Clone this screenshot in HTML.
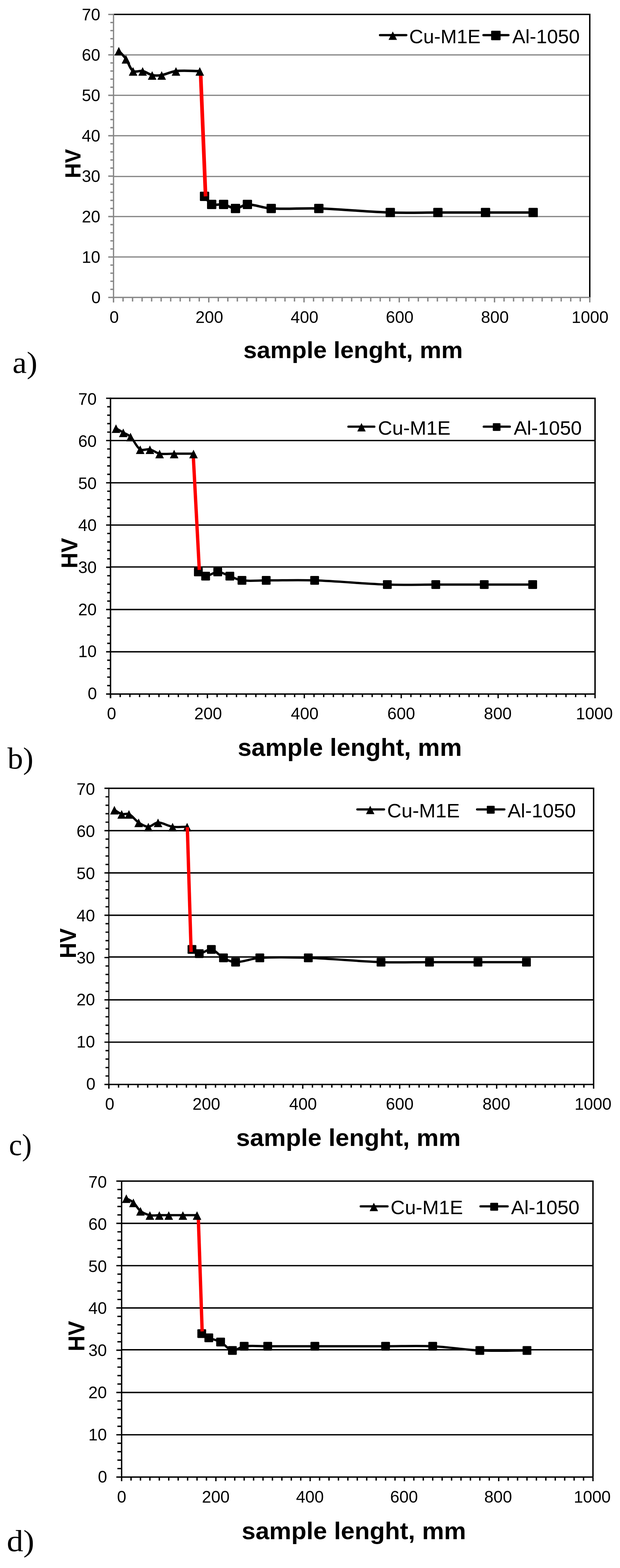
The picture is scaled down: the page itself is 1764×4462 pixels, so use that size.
<!DOCTYPE html>
<html lang="en">
<head>
<meta charset="utf-8">
<title>Hardness HV along sample length: Cu-M1E / Al-1050</title>
<style>
html,body{margin:0;padding:0;background:#fff;}
body{width:1764px;height:4462px;overflow:hidden;}
svg{display:block;}
svg text{font-family:"Liberation Sans", Arial, sans-serif;fill:#000;}
svg text.serif{font-family:"Liberation Serif","Times New Roman",serif;}
</style>
</head>
<body>
<svg width="1764" height="4462" viewBox="0 0 1764 4462">
<rect width="1764" height="4462" fill="#fff"/>
<g id="chart-a">
<path d="M323,731.36H1678M323,616.31H1678M323,502.27H1678M323,386.23H1678M323,271.19H1678M323,156.14H1678" stroke="#868686" stroke-width="3.5" fill="none"/>
<path d="M323,41.1H1678V846.4" stroke="#000" stroke-width="4" fill="none" stroke-linejoin="miter"/>
<path d="M308,846.4H323M314,823.39H323M314,800.38H323M314,777.37H323M314,754.37H323M308,731.36H323M314,708.35H323M314,685.34H323M314,662.33H323M314,639.32H323M308,616.31H323M314,593.31H323M314,570.3H323M314,547.29H323M314,524.28H323M308,501.27H323M314,478.26H323M314,455.25H323M314,432.25H323M314,409.24H323M308,386.23H323M314,363.22H323M314,340.21H323M314,317.2H323M314,294.19H323M308,271.19H323M314,248.18H323M314,225.17H323M314,202.16H323M314,179.15H323M308,156.14H323M314,133.13H323M314,110.13H323M314,87.12H323M314,64.11H323M308,41.1H323M323,846.4V860.4M350.1,846.4V857.9M377.2,846.4V857.9M404.3,846.4V857.9M431.4,846.4V857.9M458.5,846.4V857.9M485.6,846.4V857.9M512.7,846.4V857.9M539.8,846.4V857.9M566.9,846.4V857.9M594,846.4V860.4M621.1,846.4V857.9M648.2,846.4V857.9M675.3,846.4V857.9M702.4,846.4V857.9M729.5,846.4V857.9M756.6,846.4V857.9M783.7,846.4V857.9M810.8,846.4V857.9M837.9,846.4V857.9M865,846.4V860.4M892.1,846.4V857.9M919.2,846.4V857.9M946.3,846.4V857.9M973.4,846.4V857.9M1000.5,846.4V857.9M1027.6,846.4V857.9M1054.7,846.4V857.9M1081.8,846.4V857.9M1108.9,846.4V857.9M1136,846.4V860.4M1163.1,846.4V857.9M1190.2,846.4V857.9M1217.3,846.4V857.9M1244.4,846.4V857.9M1271.5,846.4V857.9M1298.6,846.4V857.9M1325.7,846.4V857.9M1352.8,846.4V857.9M1379.9,846.4V857.9M1407,846.4V860.4M1434.1,846.4V857.9M1461.2,846.4V857.9M1488.3,846.4V857.9M1515.4,846.4V857.9M1542.5,846.4V857.9M1569.6,846.4V857.9M1596.7,846.4V857.9M1623.8,846.4V857.9M1650.9,846.4V857.9M1678,846.4V860.4" stroke="#868686" stroke-width="3.9" fill="none"/>
<path d="M321.2,846.4H1678" stroke="#868686" stroke-width="3.6" fill="none"/>
<path d="M323,39.1V860.4" stroke="#868686" stroke-width="3.6" fill="none"/>
<g class="ticks">
<text transform="translate(286.3 863.41)" font-size="47.3" text-anchor="end">0</text>
<text transform="translate(285.3 748.33)" font-size="47.3" text-anchor="end">10</text>
<text transform="translate(285.3 633.24)" font-size="47.3" text-anchor="end">20</text>
<text transform="translate(285.3 518.16)" font-size="47.3" text-anchor="end">30</text>
<text transform="translate(285.3 403.07)" font-size="47.3" text-anchor="end">40</text>
<text transform="translate(285.3 287.98)" font-size="47.3" text-anchor="end">50</text>
<text transform="translate(285.3 172.9)" font-size="47.3" text-anchor="end">60</text>
<text transform="translate(285.3 57.81)" font-size="47.3" text-anchor="end">70</text>
<text transform="translate(324.8 918.9)" font-size="47.3" text-anchor="middle">0</text>
<text transform="translate(595.6 918.9)" font-size="47.3" text-anchor="middle">200</text>
<text transform="translate(866.4 918.9)" font-size="47.3" text-anchor="middle">400</text>
<text transform="translate(1137.2 918.9)" font-size="47.3" text-anchor="middle">600</text>
<text transform="translate(1408 918.9)" font-size="47.3" text-anchor="middle">800</text>
<text transform="translate(1678.8 918.9)" font-size="47.3" text-anchor="middle">1000</text>
</g>
<text transform="translate(229.1 507.3) rotate(-90) scale(0.95 1)" font-size="63" font-weight="bold">HV</text>
<text transform="translate(692.4 1018.7)" font-size="66.5" font-weight="bold" textLength="624.32" lengthAdjust="spacingAndGlyphs">sample lenght, mm</text>
<text transform="translate(35.5 1061.2) scale(1.05 1)" font-size="87" class="serif">a)</text>
<path d="M581.95,558.79 C588.73,566.46 593.69,578.16 602.27,581.8 C611.75,585.82 625.17,579.94 636.15,581.8 C647.75,583.77 658.73,593.31 670.02,593.31 C681.32,593.31 692.3,581.8 703.9,581.8 C726.18,581.8 748.85,592.02 771.65,593.31 C816.6,595.85 862.03,591.77 907.15,593.31 C974.94,595.61 1042.61,602.51 1110.4,604.81 C1155.52,606.34 1200.73,604.81 1245.9,604.81 C1291.07,604.81 1336.23,604.81 1381.4,604.81 C1426.57,604.81 1471.73,604.81 1516.9,604.81" stroke="#000" stroke-width="7" fill="none" stroke-linejoin="round"/>
<g fill="#000"><rect x="568.7" y="545.54" width="26.5" height="26.5" rx="2"/><rect x="589.02" y="568.55" width="26.5" height="26.5" rx="2"/><rect x="622.9" y="568.55" width="26.5" height="26.5" rx="2"/><rect x="656.77" y="580.06" width="26.5" height="26.5" rx="2"/><rect x="690.65" y="568.55" width="26.5" height="26.5" rx="2"/><rect x="758.4" y="580.06" width="26.5" height="26.5" rx="2"/><rect x="893.9" y="580.06" width="26.5" height="26.5" rx="2"/><rect x="1097.15" y="591.56" width="26.5" height="26.5" rx="2"/><rect x="1232.65" y="591.56" width="26.5" height="26.5" rx="2"/><rect x="1368.15" y="591.56" width="26.5" height="26.5" rx="2"/><rect x="1503.65" y="591.56" width="26.5" height="26.5" rx="2"/></g>
<path d="M570.9,211.16L584.95,558.79" stroke="#fe0000" stroke-width="10.5" fill="none"/>
<path d="M338.05,144.64 C344.82,152.31 352.5,159.33 358.38,167.65 C366.05,178.5 369.27,195.3 378.7,202.16 C385.08,206.8 397.14,200.32 405.8,202.16 C415.21,204.16 423.49,211.67 432.9,213.66 C441.56,215.5 451.17,215.16 460,213.66 C473.76,211.33 486.77,203.63 500.65,202.16 C522.91,199.8 545.82,202.16 568.4,202.16" stroke="#000" stroke-width="7" fill="none" stroke-linejoin="round"/>
<path d="M338.05,133.39L350.3,157.89H325.8ZM358.38,156.4L370.62,180.9H346.12ZM378.7,190.91L390.95,215.41H366.45ZM405.8,190.91L418.05,215.41H393.55ZM432.9,202.41L445.15,226.91H420.65ZM460,202.41L472.25,226.91H447.75ZM500.65,190.91L512.9,215.41H488.4ZM568.4,190.91L580.65,215.41H556.15Z" fill="#000"/>
<path d="M1081.2,100H1156M1375.5,100H1446.6" stroke="#000" stroke-width="6.3" stroke-linecap="round" fill="none"/>
<path d="M1117.5,89.5L1129.5,113.5H1105.5Z" fill="#000"/>
<rect x="1397.3" y="87.5" width="27" height="27" rx="2" fill="#000"/>
<text transform="translate(1164.22 122.5)" font-size="55.5" textLength="203.05" lengthAdjust="spacingAndGlyphs">Cu-M1E</text>
<text transform="translate(1457.5 122.5)" font-size="55.5" textLength="191.98" lengthAdjust="spacingAndGlyphs">Al-1050</text>
</g>
<g id="chart-b">
<path d="M314.4,1854.77H1693M314.4,1734.54H1693M314.4,1613.41H1693M314.4,1494.09H1693M314.4,1373.86H1693M314.4,1253.63H1693" stroke="#000" stroke-width="3.9" fill="none"/>
<path d="M314.4,1133.4H1693V1975" stroke="#000" stroke-width="4" fill="none" stroke-linejoin="miter"/>
<path d="M301.9,1975H314.4M305,1950.95H314.4M305,1926.91H314.4M305,1902.86H314.4M305,1878.82H314.4M301.9,1854.77H314.4M305,1830.73H314.4M305,1806.68H314.4M305,1782.63H314.4M305,1758.59H314.4M301.9,1734.54H314.4M305,1710.5H314.4M305,1686.45H314.4M305,1662.41H314.4M305,1638.36H314.4M301.9,1614.31H314.4M305,1590.27H314.4M305,1566.22H314.4M305,1542.18H314.4M305,1518.13H314.4M301.9,1494.09H314.4M305,1470.04H314.4M305,1445.99H314.4M305,1421.95H314.4M305,1397.9H314.4M301.9,1373.86H314.4M305,1349.81H314.4M305,1325.77H314.4M305,1301.72H314.4M305,1277.67H314.4M301.9,1253.63H314.4M305,1229.58H314.4M305,1205.54H314.4M305,1181.49H314.4M305,1157.45H314.4M301.9,1133.4H314.4M314.4,1975V1987M341.97,1975V1983.8M369.54,1975V1983.8M397.12,1975V1983.8M424.69,1975V1983.8M452.26,1975V1983.8M479.83,1975V1983.8M507.4,1975V1983.8M534.98,1975V1983.8M562.55,1975V1983.8M590.12,1975V1987M617.69,1975V1983.8M645.26,1975V1983.8M672.84,1975V1983.8M700.41,1975V1983.8M727.98,1975V1983.8M755.55,1975V1983.8M783.12,1975V1983.8M810.7,1975V1983.8M838.27,1975V1983.8M865.84,1975V1987M893.41,1975V1983.8M920.98,1975V1983.8M948.56,1975V1983.8M976.13,1975V1983.8M1003.7,1975V1983.8M1031.27,1975V1983.8M1058.84,1975V1983.8M1086.42,1975V1983.8M1113.99,1975V1983.8M1141.56,1975V1987M1169.13,1975V1983.8M1196.7,1975V1983.8M1224.28,1975V1983.8M1251.85,1975V1983.8M1279.42,1975V1983.8M1306.99,1975V1983.8M1334.56,1975V1983.8M1362.14,1975V1983.8M1389.71,1975V1983.8M1417.28,1975V1987M1444.85,1975V1983.8M1472.42,1975V1983.8M1500,1975V1983.8M1527.57,1975V1983.8M1555.14,1975V1983.8M1582.71,1975V1983.8M1610.28,1975V1983.8M1637.86,1975V1983.8M1665.43,1975V1983.8M1693,1975V1987" stroke="#000" stroke-width="3.9" fill="none"/>
<path d="M312.4,1975H1693" stroke="#000" stroke-width="4" fill="none"/>
<path d="M314.4,1131.4V1987" stroke="#000" stroke-width="4" fill="none"/>
<g class="ticks">
<text transform="translate(275.9 1989.81)" font-size="47.3" text-anchor="end">0</text>
<text transform="translate(275 1870.16)" font-size="47.3" text-anchor="end">10</text>
<text transform="translate(275 1750.5)" font-size="47.3" text-anchor="end">20</text>
<text transform="translate(275 1630.84)" font-size="47.3" text-anchor="end">30</text>
<text transform="translate(275 1511.18)" font-size="47.3" text-anchor="end">40</text>
<text transform="translate(275 1391.53)" font-size="47.3" text-anchor="end">50</text>
<text transform="translate(275 1271.87)" font-size="47.3" text-anchor="end">60</text>
<text transform="translate(275 1152.21)" font-size="47.3" text-anchor="end">70</text>
<text transform="translate(317.4 2046.8)" font-size="47.3" text-anchor="middle">0</text>
<text transform="translate(592.12 2046.8)" font-size="47.3" text-anchor="middle">200</text>
<text transform="translate(866.84 2046.8)" font-size="47.3" text-anchor="middle">400</text>
<text transform="translate(1141.56 2046.8)" font-size="47.3" text-anchor="middle">600</text>
<text transform="translate(1416.28 2046.8)" font-size="47.3" text-anchor="middle">800</text>
<text transform="translate(1691 2046.8)" font-size="47.3" text-anchor="middle">1000</text>
</g>
<text transform="translate(220.2 1617.5) rotate(-90) scale(0.95 1)" font-size="65.7" font-weight="bold">HV</text>
<text transform="translate(676.4 2151)" font-size="70" font-weight="bold" textLength="637.6" lengthAdjust="spacingAndGlyphs">sample lenght, mm</text>
<text transform="translate(21.2 2186.6) scale(1.02 1)" font-size="87" class="serif">b)</text>
<path d="M564.35,1627.54 C571.24,1631.54 577.75,1639.56 585.03,1639.56 C596.13,1639.56 608,1627.54 619.49,1627.54 C630.98,1627.54 642.47,1635.55 653.96,1639.56 C665.45,1643.57 676.49,1650.2 688.42,1651.58 C710.95,1654.2 734.38,1651.58 757.35,1651.58 C803.31,1651.58 849.31,1649.98 895.21,1651.58 C964.19,1653.99 1033.03,1661.2 1102,1663.61 C1147.91,1665.21 1193.91,1663.61 1239.86,1663.61 C1285.82,1663.61 1331.77,1663.61 1377.72,1663.61 C1423.68,1663.61 1469.63,1663.61 1515.58,1663.61" stroke="#000" stroke-width="6.5" fill="none" stroke-linejoin="round"/>
<g fill="#000"><rect x="551.85" y="1615.04" width="25" height="25" rx="2"/><rect x="572.53" y="1627.06" width="25" height="25" rx="2"/><rect x="606.99" y="1615.04" width="25" height="25" rx="2"/><rect x="641.46" y="1627.06" width="25" height="25" rx="2"/><rect x="675.92" y="1639.08" width="25" height="25" rx="2"/><rect x="744.85" y="1639.08" width="25" height="25" rx="2"/><rect x="882.71" y="1639.08" width="25" height="25" rx="2"/><rect x="1089.5" y="1651.11" width="25" height="25" rx="2"/><rect x="1227.36" y="1651.11" width="25" height="25" rx="2"/><rect x="1365.22" y="1651.11" width="25" height="25" rx="2"/><rect x="1503.08" y="1651.11" width="25" height="25" rx="2"/></g>
<path d="M550.06,1299.9L567.05,1621.64" stroke="#fe0000" stroke-width="9.5" fill="none"/>
<path d="M329.99,1218.76 C336.88,1222.77 343.77,1226.78 350.66,1230.78 C357.56,1234.79 365.79,1237.27 371.34,1242.81 C381.88,1253.3 387.48,1271.39 398.92,1278.87 C405.86,1283.42 417.7,1276.96 426.49,1278.87 C436.08,1280.97 444.39,1289.21 454.06,1290.9 C467.36,1293.22 481.63,1290.9 495.42,1290.9 C513.8,1290.9 532.18,1290.9 550.56,1290.9" stroke="#000" stroke-width="6.5" fill="none" stroke-linejoin="round"/>
<path d="M329.99,1207.51L342.24,1232.01H317.74ZM350.66,1219.53L362.91,1244.03H338.41ZM371.34,1231.56L383.59,1256.06H359.09ZM398.92,1267.62L411.17,1292.12H386.67ZM426.49,1267.62L438.74,1292.12H414.24ZM454.06,1279.65L466.31,1304.15H441.81ZM495.42,1279.65L507.67,1304.15H483.17ZM550.56,1279.65L562.81,1304.15H538.31Z" fill="#000"/>
<path d="M991.4,1214.2H1065M1376.4,1214.2H1450.4" stroke="#000" stroke-width="6.3" stroke-linecap="round" fill="none"/>
<path d="M1028.5,1203.7L1040.5,1227.7H1016.5Z" fill="#000"/>
<rect x="1402" y="1204.2" width="22" height="22" rx="2" fill="#000"/>
<text transform="translate(1075.35 1237.1)" font-size="55" textLength="206.6" lengthAdjust="spacingAndGlyphs">Cu-M1E</text>
<text transform="translate(1461.8 1237.1)" font-size="55" textLength="193.55" lengthAdjust="spacingAndGlyphs">Al-1050</text>
</g>
<g id="chart-c">
<path d="M309.7,2965.61H1688.9M309.7,2845.23H1688.9M309.7,2723.24H1688.9M309.7,2604.46H1688.9M309.7,2484.07H1688.9M309.7,2363.69H1688.9" stroke="#000" stroke-width="3.9" fill="none"/>
<path d="M309.7,2243.3H1688.9V3086" stroke="#000" stroke-width="4" fill="none" stroke-linejoin="miter"/>
<path d="M297.2,3086H309.7M300.2,3061.92H309.7M300.2,3037.85H309.7M300.2,3013.77H309.7M300.2,2989.69H309.7M297.2,2965.61H309.7M300.2,2941.54H309.7M300.2,2917.46H309.7M300.2,2893.38H309.7M300.2,2869.31H309.7M297.2,2845.23H309.7M300.2,2821.15H309.7M300.2,2797.07H309.7M300.2,2773H309.7M300.2,2748.92H309.7M297.2,2724.84H309.7M300.2,2700.77H309.7M300.2,2676.69H309.7M300.2,2652.61H309.7M300.2,2628.53H309.7M297.2,2604.46H309.7M300.2,2580.38H309.7M300.2,2556.3H309.7M300.2,2532.23H309.7M300.2,2508.15H309.7M297.2,2484.07H309.7M300.2,2459.99H309.7M300.2,2435.92H309.7M300.2,2411.84H309.7M300.2,2387.76H309.7M297.2,2363.69H309.7M300.2,2339.61H309.7M300.2,2315.53H309.7M300.2,2291.45H309.7M300.2,2267.38H309.7M297.2,2243.3H309.7M309.7,3086V3098M337.28,3086V3095M364.87,3086V3095M392.45,3086V3095M420.04,3086V3095M447.62,3086V3095M475.2,3086V3095M502.79,3086V3095M530.37,3086V3095M557.96,3086V3095M585.54,3086V3098M613.12,3086V3095M640.71,3086V3095M668.29,3086V3095M695.88,3086V3095M723.46,3086V3095M751.04,3086V3095M778.63,3086V3095M806.21,3086V3095M833.8,3086V3095M861.38,3086V3098M888.96,3086V3095M916.55,3086V3095M944.13,3086V3095M971.72,3086V3095M999.3,3086V3095M1026.88,3086V3095M1054.47,3086V3095M1082.05,3086V3095M1109.64,3086V3095M1137.22,3086V3098M1164.8,3086V3095M1192.39,3086V3095M1219.97,3086V3095M1247.56,3086V3095M1275.14,3086V3095M1302.72,3086V3095M1330.31,3086V3095M1357.89,3086V3095M1385.48,3086V3095M1413.06,3086V3098M1440.64,3086V3095M1468.23,3086V3095M1495.81,3086V3095M1523.4,3086V3095M1550.98,3086V3095M1578.56,3086V3095M1606.15,3086V3095M1633.73,3086V3095M1661.32,3086V3095M1688.9,3086V3098" stroke="#000" stroke-width="3.9" fill="none"/>
<path d="M307.7,3086H1688.9" stroke="#000" stroke-width="4" fill="none"/>
<path d="M309.7,2241.3V3098" stroke="#000" stroke-width="3" fill="none"/>
<g class="ticks">
<text transform="translate(271.6 3101.01)" font-size="47.3" text-anchor="end">0</text>
<text transform="translate(270.3 2981.18)" font-size="47.3" text-anchor="end">10</text>
<text transform="translate(270.3 2861.36)" font-size="47.3" text-anchor="end">20</text>
<text transform="translate(270.3 2741.53)" font-size="47.3" text-anchor="end">30</text>
<text transform="translate(270.3 2621.7)" font-size="47.3" text-anchor="end">40</text>
<text transform="translate(270.3 2501.87)" font-size="47.3" text-anchor="end">50</text>
<text transform="translate(270.3 2382.04)" font-size="47.3" text-anchor="end">60</text>
<text transform="translate(270.3 2262.21)" font-size="47.3" text-anchor="end">70</text>
<text transform="translate(312.1 3158)" font-size="47.3" text-anchor="middle">0</text>
<text transform="translate(587.14 3158)" font-size="47.3" text-anchor="middle">200</text>
<text transform="translate(862.18 3158)" font-size="47.3" text-anchor="middle">400</text>
<text transform="translate(1137.22 3158)" font-size="47.3" text-anchor="middle">600</text>
<text transform="translate(1412.26 3158)" font-size="47.3" text-anchor="middle">800</text>
<text transform="translate(1687.3 3158)" font-size="47.3" text-anchor="middle">1000</text>
</g>
<text transform="translate(216.2 2727.3) rotate(-90) scale(0.94 1)" font-size="65.7" font-weight="bold">HV</text>
<text transform="translate(672.12 3261)" font-size="69.3" font-weight="bold" textLength="638.54" lengthAdjust="spacingAndGlyphs">sample lenght, mm</text>
<text transform="translate(25.5 3286.6) scale(0.96 1)" font-size="87" class="serif">c)</text>
<path d="M546.16,2701.77 C553.06,2705.78 559.57,2713.8 566.85,2713.8 C577.96,2713.8 590.65,2699.9 601.33,2701.77 C613.63,2703.91 623.51,2719.4 635.81,2725.84 C646.5,2731.44 658.47,2737.88 670.29,2737.88 C692.95,2737.88 716.03,2727.19 739.25,2725.84 C784.99,2723.18 831.25,2724.24 877.17,2725.84 C946.18,2728.25 1015.05,2735.47 1084.05,2737.88 C1129.98,2739.48 1176,2737.88 1221.97,2737.88 C1267.95,2737.88 1313.92,2737.88 1359.89,2737.88 C1405.87,2737.88 1451.84,2737.88 1497.81,2737.88" stroke="#000" stroke-width="6.5" fill="none" stroke-linejoin="round"/>
<g fill="#000"><rect x="533.66" y="2689.27" width="25" height="25" rx="2"/><rect x="554.35" y="2701.3" width="25" height="25" rx="2"/><rect x="588.83" y="2689.27" width="25" height="25" rx="2"/><rect x="623.31" y="2713.34" width="25" height="25" rx="2"/><rect x="657.79" y="2725.38" width="25" height="25" rx="2"/><rect x="726.75" y="2713.34" width="25" height="25" rx="2"/><rect x="864.67" y="2713.34" width="25" height="25" rx="2"/><rect x="1071.55" y="2725.38" width="25" height="25" rx="2"/><rect x="1209.47" y="2725.38" width="25" height="25" rx="2"/><rect x="1347.39" y="2725.38" width="25" height="25" rx="2"/><rect x="1485.31" y="2725.38" width="25" height="25" rx="2"/></g>
<path d="M325.49,2304.49 C332.39,2308.51 338.78,2314.38 346.18,2316.53 C352.57,2318.39 361.06,2313.63 366.87,2316.53 C377.15,2321.66 384.36,2334 394.45,2340.61 C402.75,2346.04 412.84,2352.65 422.04,2352.65 C431.23,2352.65 440.17,2340.61 449.62,2340.61 C463.15,2340.61 476.92,2350.6 491,2352.65 C504.51,2354.61 518.58,2352.65 532.37,2352.65" stroke="#000" stroke-width="6.5" fill="none" stroke-linejoin="round"/>
<path d="M325.49,2293.24L337.74,2317.74H313.24ZM346.18,2305.28L358.43,2329.78H333.93ZM366.87,2305.28L379.12,2329.78H354.62ZM394.45,2329.36L406.7,2353.86H382.2ZM422.04,2341.4L434.29,2365.9H409.79ZM449.62,2329.36L461.87,2353.86H437.37ZM491,2341.4L503.25,2365.9H478.75ZM532.37,2341.4L544.62,2365.9H520.12Z" fill="#000"/>
<path d="M532.97,2353.95L543.76,2708.77" stroke="#fe0000" stroke-width="9.5" fill="none"/>
<path d="M1016.8,2303.3H1092.6M1357.4,2303.3H1435" stroke="#000" stroke-width="6.3" stroke-linecap="round" fill="none"/>
<path d="M1053.3,2292.8L1065.3,2316.8H1041.3Z" fill="#000"/>
<rect x="1384.95" y="2293.05" width="22.5" height="22.5" rx="2" fill="#000"/>
<text transform="translate(1101.45 2326.3)" font-size="55" textLength="206.6" lengthAdjust="spacingAndGlyphs">Cu-M1E</text>
<text transform="translate(1444.2 2326.3)" font-size="55" textLength="194.15" lengthAdjust="spacingAndGlyphs">Al-1050</text>
</g>
<g id="chart-d">
<path d="M346,4082.89H1687.1M346,3962.57H1687.1M346,3841.06H1687.1M346,3721.94H1687.1M346,3601.63H1687.1M346,3481.31H1687.1" stroke="#000" stroke-width="3.9" fill="none"/>
<path d="M346,3361H1687.1V4203.2" stroke="#000" stroke-width="4" fill="none" stroke-linejoin="miter"/>
<path d="M331,4203.2H346M334,4179.14H346M334,4155.07H346M334,4131.01H346M334,4106.95H346M331,4082.89H346M334,4058.82H346M334,4034.76H346M334,4010.7H346M334,3986.63H346M331,3962.57H346M334,3938.51H346M334,3914.45H346M334,3890.38H346M334,3866.32H346M331,3842.26H346M334,3818.19H346M334,3794.13H346M334,3770.07H346M334,3746.01H346M331,3721.94H346M334,3697.88H346M334,3673.82H346M334,3649.75H346M334,3625.69H346M331,3601.63H346M334,3577.57H346M334,3553.5H346M334,3529.44H346M334,3505.38H346M331,3481.31H346M334,3457.25H346M334,3433.19H346M334,3409.13H346M334,3385.06H346M331,3361H346M346,4203.2V4215M372.82,4203.2V4213.2M399.64,4203.2V4213.2M426.47,4203.2V4213.2M453.29,4203.2V4213.2M480.11,4203.2V4213.2M506.93,4203.2V4213.2M533.75,4203.2V4213.2M560.58,4203.2V4213.2M587.4,4203.2V4213.2M614.22,4203.2V4215M641.04,4203.2V4213.2M667.86,4203.2V4213.2M694.69,4203.2V4213.2M721.51,4203.2V4213.2M748.33,4203.2V4213.2M775.15,4203.2V4213.2M801.97,4203.2V4213.2M828.8,4203.2V4213.2M855.62,4203.2V4213.2M882.44,4203.2V4215M909.26,4203.2V4213.2M936.08,4203.2V4213.2M962.91,4203.2V4213.2M989.73,4203.2V4213.2M1016.55,4203.2V4213.2M1043.37,4203.2V4213.2M1070.19,4203.2V4213.2M1097.02,4203.2V4213.2M1123.84,4203.2V4213.2M1150.66,4203.2V4215M1177.48,4203.2V4213.2M1204.3,4203.2V4213.2M1231.13,4203.2V4213.2M1257.95,4203.2V4213.2M1284.77,4203.2V4213.2M1311.59,4203.2V4213.2M1338.41,4203.2V4213.2M1365.24,4203.2V4213.2M1392.06,4203.2V4213.2M1418.88,4203.2V4215M1445.7,4203.2V4213.2M1472.52,4203.2V4213.2M1499.35,4203.2V4213.2M1526.17,4203.2V4213.2M1552.99,4203.2V4213.2M1579.81,4203.2V4213.2M1606.63,4203.2V4213.2M1633.46,4203.2V4213.2M1660.28,4203.2V4213.2M1687.1,4203.2V4215" stroke="#000" stroke-width="3.9" fill="none"/>
<path d="M344,4203.2H1687.1" stroke="#000" stroke-width="4" fill="none"/>
<path d="M346,3359V4215" stroke="#000" stroke-width="4" fill="none"/>
<g class="ticks">
<text transform="translate(304.9 4218.81)" font-size="47.3" text-anchor="end">0</text>
<text transform="translate(304.1 4098.96)" font-size="47.3" text-anchor="end">10</text>
<text transform="translate(304.1 3979.1)" font-size="47.3" text-anchor="end">20</text>
<text transform="translate(304.1 3859.24)" font-size="47.3" text-anchor="end">30</text>
<text transform="translate(304.1 3739.38)" font-size="47.3" text-anchor="end">40</text>
<text transform="translate(304.1 3619.53)" font-size="47.3" text-anchor="end">50</text>
<text transform="translate(304.1 3499.67)" font-size="47.3" text-anchor="end">60</text>
<text transform="translate(304.1 3379.81)" font-size="47.3" text-anchor="end">70</text>
<text transform="translate(346.2 4275.8)" font-size="47.3" text-anchor="middle">0</text>
<text transform="translate(613.96 4275.8)" font-size="47.3" text-anchor="middle">200</text>
<text transform="translate(881.72 4275.8)" font-size="47.3" text-anchor="middle">400</text>
<text transform="translate(1149.48 4275.8)" font-size="47.3" text-anchor="middle">600</text>
<text transform="translate(1417.24 4275.8)" font-size="47.3" text-anchor="middle">800</text>
<text transform="translate(1685 4275.8)" font-size="47.3" text-anchor="middle">1000</text>
</g>
<text transform="translate(240.2 3845.6) rotate(-90) scale(0.95 1)" font-size="65.7" font-weight="bold">HV</text>
<text transform="translate(687.72 4380)" font-size="69.3" font-weight="bold" textLength="638.24" lengthAdjust="spacingAndGlyphs">sample lenght, mm</text>
<text transform="translate(19.3 4414) scale(1.08 1)" font-size="87" class="serif">d)</text>
<path d="M573.99,3794.93 C580.69,3798.94 587.01,3803.78 594.1,3806.96 C604.89,3811.8 617.28,3813.42 627.63,3818.99 C639.63,3825.45 649.16,3840.9 661.16,3843.06 C671.51,3844.92 683.05,3832.42 694.69,3831.03 C716.58,3828.41 739.39,3831.03 761.74,3831.03 C806.44,3831.03 851.15,3831.03 895.85,3831.03 C962.91,3831.03 1029.96,3831.03 1097.02,3831.03 C1141.72,3831.03 1186.51,3829.02 1231.13,3831.03 C1275.92,3833.03 1320.44,3841.05 1365.24,3843.06 C1409.85,3845.06 1454.64,3843.06 1499.35,3843.06" stroke="#000" stroke-width="6.5" fill="none" stroke-linejoin="round"/>
<g fill="#000"><rect x="561.49" y="3782.43" width="25" height="25" rx="2"/><rect x="581.6" y="3794.46" width="25" height="25" rx="2"/><rect x="615.13" y="3806.49" width="25" height="25" rx="2"/><rect x="648.66" y="3830.56" width="25" height="25" rx="2"/><rect x="682.19" y="3818.53" width="25" height="25" rx="2"/><rect x="749.24" y="3818.53" width="25" height="25" rx="2"/><rect x="883.35" y="3818.53" width="25" height="25" rx="2"/><rect x="1084.52" y="3818.53" width="25" height="25" rx="2"/><rect x="1218.63" y="3818.53" width="25" height="25" rx="2"/><rect x="1352.74" y="3830.56" width="25" height="25" rx="2"/><rect x="1486.85" y="3830.56" width="25" height="25" rx="2"/></g>
<path d="M564.28,3467.05L575.19,3788.73" stroke="#fe0000" stroke-width="9.5" fill="none"/>
<path d="M359.41,3409.93 C366.12,3413.94 373.79,3416.81 379.53,3421.96 C387.2,3428.84 391.57,3439.81 399.64,3446.02 C407.21,3451.84 417.12,3455.95 426.47,3458.05 C435,3459.96 444.35,3458.05 453.29,3458.05 C462.23,3458.05 471.17,3458.05 480.11,3458.05 C493.52,3458.05 506.93,3458.05 520.34,3458.05 C533.75,3458.05 547.16,3458.05 560.58,3458.05" stroke="#000" stroke-width="6.5" fill="none" stroke-linejoin="round"/>
<path d="M359.41,3398.68L371.66,3423.18H347.16ZM379.53,3410.71L391.78,3435.21H367.28ZM399.64,3434.77L411.89,3459.27H387.39ZM426.47,3446.8L438.72,3471.3H414.22ZM453.29,3446.8L465.54,3471.3H441.04ZM480.11,3446.8L492.36,3471.3H467.86ZM520.34,3446.8L532.59,3471.3H508.09ZM560.58,3446.8L572.83,3471.3H548.33Z" fill="#000"/>
<path d="M1026.4,3432.9H1102.5M1367.1,3432.9H1444.3" stroke="#000" stroke-width="6.3" stroke-linecap="round" fill="none"/>
<path d="M1063.6,3422.4L1075.6,3446.4H1051.6Z" fill="#000"/>
<rect x="1394.75" y="3422.65" width="22.5" height="22.5" rx="2" fill="#000"/>
<text transform="translate(1111.35 3455.3)" font-size="55" textLength="205.9" lengthAdjust="spacingAndGlyphs">Cu-M1E</text>
<text transform="translate(1454.1 3455.3)" font-size="55" textLength="194.65" lengthAdjust="spacingAndGlyphs">Al-1050</text>
</g>
</svg>
</body>
</html>
